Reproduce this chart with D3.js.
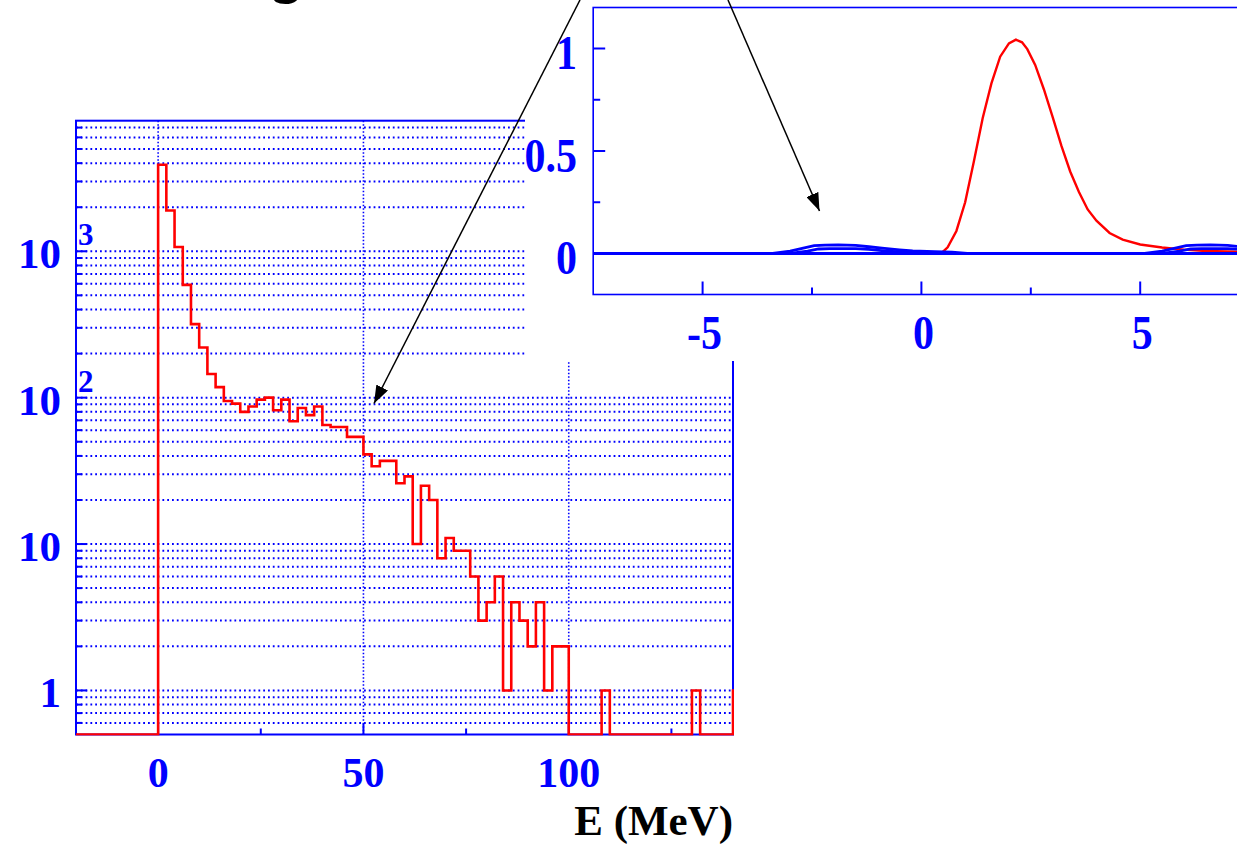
<!DOCTYPE html>
<html>
<head>
<meta charset="utf-8">
<style>
  body { margin: 0; background: #fff; }
  svg { display: block; }
  .lab { font-family: "Liberation Serif", "Times New Roman", serif; font-weight: bold; fill: #0000ff; }
</style>
</head>
<body>
<svg width="1237" height="845"></svg>
<script src="https://d3js.org/d3.v7.min.js"></script>
<script>
  // ---- main histogram: counts per 2 MeV bin, first bin starts at 0 MeV
  const binStart = d3.range(0, 142, 2);
  const counts = [
    3900, 1900, 1070, 590, 318, 220, 145, 118, 95, 91,
    80, 87, 97, 100, 82, 97, 69, 85, 76, 87,
    65, 63, 63, 54, 54, 41, 34, 37, 37, 26,
    29, 10, 25, 20, 8, 11, 9, 9, 6, 3,
    4, 6, 1, 4, 3, 2, 4, 1, 2, 2,
    0, 0, 0, 0, 1, 0, 0, 0, 0, 0,
    0, 0, 0, 0, 0, 1, 0, 0, 0, 0,
    1
  ];
  const xMajorMain = [0, 50, 100];
  const xMinorMain = [25, 75, 125];
  const yLabelVals = [1, 10, 100, 1000];
  const yLabelExp = ["", "", "2", "3"];
  const xTitle = "E (MeV)";

  // ---- inset: response curves
  const redX = [0.45, 0.6, 0.8, 1.0, 1.2, 1.4, 1.6, 1.8, 2.0, 2.16, 2.3, 2.42, 2.6, 2.8, 3.0, 3.2, 3.4, 3.6, 3.8, 4.0, 4.3, 4.6, 5.0, 5.5, 6.0, 6.5, 7.0, 7.5];
  const redY = [0.0, 0.03, 0.11, 0.25, 0.45, 0.66, 0.83, 0.96, 1.025, 1.043, 1.03, 0.997, 0.92, 0.80, 0.665, 0.525, 0.40, 0.30, 0.215, 0.16, 0.10, 0.068, 0.044, 0.029, 0.019, 0.012, 0.01, 0.008];
  const blueOuterX = [-3.4, -3.0, -2.7, -2.45, -2.2, -1.9, -1.5, -1.2, -0.9, -0.5, -0.2, 0.3, 0.7, 1.05];
  const blueOuterY = [0.0, 0.012, 0.026, 0.038, 0.041, 0.042, 0.040, 0.033, 0.026, 0.018, 0.013, 0.009, 0.006, 0.0];
  const blueInnerX = [-3.0, -2.6, -2.35, -2.1, -1.5, -1.2, -0.8, -0.3, 0.3];
  const blueInnerY = [0.0, 0.012, 0.022, 0.024, 0.024, 0.020, 0.012, 0.006, 0.0];
  const blueOuter2X = [5.1, 5.5, 5.8, 6.05, 6.3, 6.6, 7.0, 7.3, 7.6];
  const blueOuter2Y = [0.0, 0.012, 0.026, 0.038, 0.041, 0.042, 0.040, 0.033, 0.026];
  const blueInner2X = [5.5, 5.9, 6.15, 6.4, 7.0, 7.3, 7.7];
  const blueInner2Y = [0.0, 0.012, 0.022, 0.024, 0.024, 0.020, 0.012];
  const insetXMajor = [-5, 0, 5];
  const insetXMinor = [-2.5, 2.5];
  const insetYMajor = [0, 0.5, 1];
  const insetYMinor = [0.25, 0.75];

  const blue = "#0000ff", red = "#ff0000";
  const svg = d3.select("svg");

  // ================= main chart =================
  const x = d3.scaleLinear().domain([-20, 140]).range([76, 733]);
  const y = d3.scaleLog().domain([0.5, 7800]).range([734.5, 120.7]);
  const [x0, x1] = x.range(), [yb, yt] = y.range();

  svg.append("clipPath").attr("id", "plotclip")
    .append("rect").attr("x", x0).attr("y", yt).attr("width", x1 - x0 + 1).attr("height", yb - yt + 1);

  const main = svg.append("g");
  const gridVals = y.ticks().filter(v => v > 0.5 && v < 7800);
  const isDecade = v => Math.abs(Math.log10(v) - Math.round(Math.log10(v))) < 1e-6;

  main.append("g").selectAll("line").data(gridVals).join("line")
    .attr("x1", x0).attr("x2", x1)
    .attr("y1", d => y(d)).attr("y2", d => y(d))
    .attr("stroke", blue).attr("stroke-width", 2).attr("stroke-dasharray", "1.8,3");
  main.append("g").selectAll("line").data(xMajorMain).join("line")
    .attr("x1", d => x(d)).attr("x2", d => x(d))
    .attr("y1", yt).attr("y2", yb)
    .attr("stroke", blue).attr("stroke-width", 1.6).attr("stroke-dasharray", "1.5,2");

  // left ticks
  main.append("g").selectAll("line").data(gridVals).join("line")
    .attr("x1", x0).attr("x2", d => x0 + (isDecade(d) ? 11 : 6))
    .attr("y1", d => y(d)).attr("y2", d => y(d))
    .attr("stroke", blue).attr("stroke-width", 2);
  // bottom ticks
  main.append("g").selectAll("line").data(xMajorMain.concat(xMinorMain)).join("line")
    .attr("x1", d => x(d)).attr("x2", d => x(d))
    .attr("y1", yb).attr("y2", d => yb - (xMajorMain.includes(d) ? 11 : 6))
    .attr("stroke", blue).attr("stroke-width", 2);

  // frame
  main.append("rect").attr("x", x0).attr("y", yt).attr("width", x1 - x0).attr("height", yb - yt)
    .attr("fill", "none").attr("stroke", blue).attr("stroke-width", 2);

  // histogram
  const histPts = [[-20, 0]].concat(binStart.map((b, i) => [b, counts[i]])).concat([[142, counts[counts.length - 1]]]);
  const histLine = d3.line()
    .x(d => x(d[0]))
    .y(d => y(Math.max(d[1], 0.5)))
    .curve(d3.curveStepAfter);
  main.append("path").attr("d", histLine(histPts)).attr("clip-path", "url(#plotclip)")
    .attr("fill", "none").attr("stroke", red).attr("stroke-width", 2.6);

  // labels
  main.append("g").selectAll("text").data(xMajorMain).join("text")
    .attr("class", "lab").attr("x", d => x(d)).attr("y", 787)
    .attr("text-anchor", "middle").attr("font-size", 42).text(d => d);
  const yl = main.append("g").selectAll("g").data(yLabelVals).join("g");
  yl.append("text").attr("class", "lab").attr("x", 61).attr("y", d => y(d) + 17)
    .attr("text-anchor", "end").attr("font-size", 43).text(d => d === 1 ? "1" : "10");
  yl.append("text").attr("class", "lab").attr("x", 78).attr("y", d => y(d) - 6)
    .attr("font-size", 31).text((d, i) => yLabelExp[i]);
  main.append("text").attr("class", "lab").attr("x", 733).attr("y", 835)
    .attr("text-anchor", "end").attr("font-size", 43).style("fill", "#000").text(xTitle);

  // ================= inset =================
  svg.append("rect").attr("x", 525).attr("y", 0).attr("width", 712).attr("height", 361).attr("fill", "#fff");

  const ix = d3.scaleLinear().domain([-7.5, 7.5]).range([593.2, 1249.6]);
  const iy = d3.scaleLinear().domain([-0.2, 1.2]).range([294.5, 7.5]);
  const [ix0, ix1] = ix.range(), [iyb, iyt] = iy.range();
  svg.append("clipPath").attr("id", "insetclip")
    .append("rect").attr("x", ix0).attr("y", iyt).attr("width", ix1 - ix0).attr("height", iyb - iyt);

  const inset = svg.append("g");
  inset.append("rect").attr("x", ix0).attr("y", iyt).attr("width", ix1 - ix0).attr("height", iyb - iyt)
    .attr("fill", "none").attr("stroke", blue).attr("stroke-width", 1.6);
  inset.append("g").selectAll("line").data(insetYMajor.concat(insetYMinor)).join("line")
    .attr("x1", ix0).attr("x2", d => ix0 + (insetYMajor.includes(d) ? 12 : 7))
    .attr("y1", d => iy(d)).attr("y2", d => iy(d))
    .attr("stroke", blue).attr("stroke-width", 2);
  inset.append("g").selectAll("line").data(insetXMajor.concat(insetXMinor)).join("line")
    .attr("x1", d => ix(d)).attr("x2", d => ix(d))
    .attr("y1", iyb).attr("y2", d => iyb - (insetXMajor.includes(d) ? 13 : 7))
    .attr("stroke", blue).attr("stroke-width", 2);

  const curve = d3.line().x(d => ix(d[0])).y(d => iy(d[1]));
  const zip = (a, b) => a.map((v, i) => [v, b[i]]);
  const curves = inset.append("g").attr("clip-path", "url(#insetclip)");
  curves.append("path").attr("d", curve(zip(redX, redY)))
    .attr("fill", "none").attr("stroke", red).attr("stroke-width", 2.4);
  curves.append("line").attr("x1", ix0).attr("x2", ix1).attr("y1", iy(0)).attr("y2", iy(0))
    .attr("stroke", blue).attr("stroke-width", 2.8);
  [[blueOuterX, blueOuterY], [blueInnerX, blueInnerY], [blueOuter2X, blueOuter2Y], [blueInner2X, blueInner2Y]]
    .forEach(([bx, by]) => {
      curves.append("path").attr("d", curve(zip(bx, by)))
        .attr("fill", "none").attr("stroke", blue).attr("stroke-width", 2.8);
    });

  inset.append("g").selectAll("text").data(insetXMajor).join("text")
    .attr("class", "lab").attr("text-anchor", "middle").attr("font-size", 42)
    .attr("transform", d => "translate(" + (ix(d) + 2) + ",349) scale(1,1.14)")
    .text(d => d);
  inset.append("g").selectAll("text").data(insetYMajor).join("text")
    .attr("class", "lab").attr("text-anchor", "end").attr("font-size", 42)
    .attr("transform", d => "translate(577," + (iy(d) + 20.5) + ") scale(1,1.14)")
    .text(d => d);

  // ================= arrows and cut title =================
  const defs = svg.append("defs");
  defs.append("marker").attr("id", "head").attr("viewBox", "0 0 18 13")
    .attr("refX", 18).attr("refY", 6.5).attr("markerWidth", 18).attr("markerHeight", 13)
    .attr("markerUnits", "userSpaceOnUse").attr("orient", "auto")
    .append("path").attr("d", "M0,0 L18,6.5 L0,13 Z").attr("fill", "#000");
  const arrows = [[580, 0, 374, 403.5], [728, 0, 819.5, 211]];
  svg.append("g").selectAll("line").data(arrows).join("line")
    .attr("x1", d => d[0]).attr("y1", d => d[1]).attr("x2", d => d[2]).attr("y2", d => d[3])
    .attr("stroke", "#000").attr("stroke-width", 1.5).attr("marker-end", "url(#head)");

  svg.append("text").attr("x", 286).attr("y", -8).attr("text-anchor", "middle")
    .attr("font-family", "Liberation Sans, Arial, sans-serif").attr("font-weight", "bold")
    .attr("font-size", 60).attr("fill", "#000").text("g");
</script>
</body>
</html>
